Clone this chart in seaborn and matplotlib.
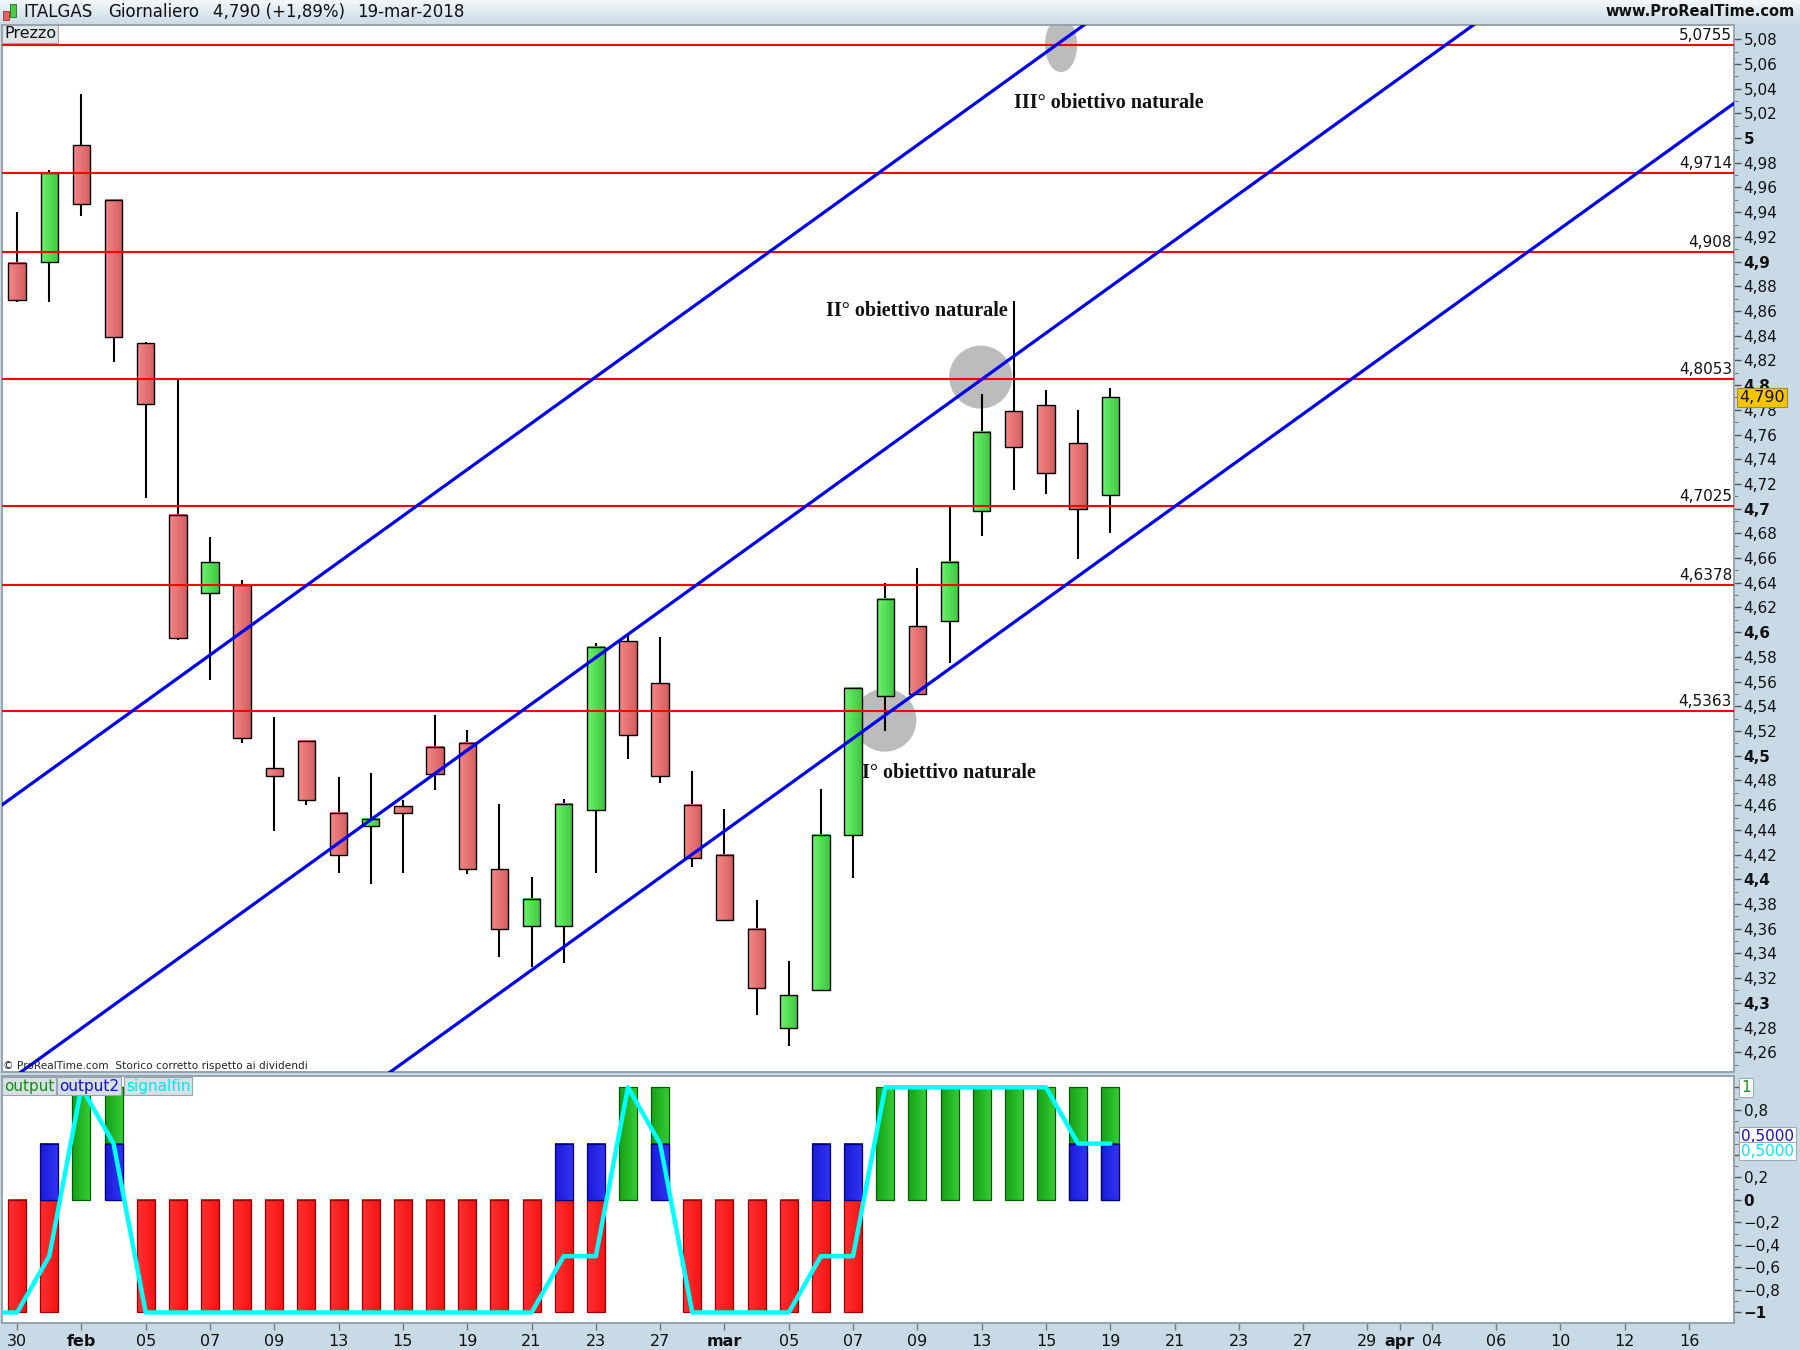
import numpy as np
import pandas as pd
import matplotlib
matplotlib.use("Agg")
import matplotlib.pyplot as plt
import matplotlib.transforms as mtransforms
from matplotlib.colors import to_rgb
from matplotlib.patches import Ellipse, Rectangle
import seaborn as sns

# ------------------------------------------------------------------ data
# trading days shown on the time axis (Good Friday / Easter Monday closed)
dates = pd.bdate_range("2018-01-30", "2018-04-17").drop(
    [pd.Timestamp("2018-03-30"), pd.Timestamp("2018-04-02")])

open_ = [4.899, 4.900, 4.994, 4.950, 4.834, 4.695, 4.632, 4.638, 4.490, 4.512,
         4.454, 4.443, 4.459, 4.507, 4.510, 4.408, 4.362, 4.362, 4.456, 4.593,
         4.559, 4.460, 4.420, 4.360, 4.280, 4.310, 4.436, 4.548, 4.605, 4.609,
         4.698, 4.779, 4.784, 4.753, 4.711]
high = [4.940, 4.974, 5.036, 4.951, 4.835, 4.805, 4.677, 4.642, 4.531, 4.513,
        4.483, 4.486, 4.464, 4.533, 4.521, 4.461, 4.402, 4.465, 4.591, 4.598,
        4.596, 4.488, 4.457, 4.383, 4.334, 4.473, 4.555, 4.640, 4.652, 4.701,
        4.793, 4.868, 4.796, 4.780, 4.798]
low = [4.867, 4.867, 4.937, 4.819, 4.709, 4.594, 4.561, 4.510, 4.439, 4.460,
       4.405, 4.396, 4.405, 4.472, 4.404, 4.337, 4.329, 4.332, 4.405, 4.497,
       4.478, 4.410, 4.367, 4.290, 4.265, 4.310, 4.401, 4.520, 4.550, 4.575,
       4.678, 4.715, 4.712, 4.659, 4.680]
close = [4.869, 4.972, 4.947, 4.839, 4.785, 4.595, 4.657, 4.514, 4.484, 4.464,
         4.420, 4.449, 4.454, 4.485, 4.408, 4.360, 4.384, 4.461, 4.588, 4.517,
         4.484, 4.417, 4.367, 4.312, 4.306, 4.436, 4.555, 4.627, 4.550, 4.657,
         4.762, 4.750, 4.729, 4.700, 4.790]

# horizontal levels and their labels
levels = [5.0755, 4.9714, 4.908, 4.8053, 4.7025, 4.6378, 4.5363]
level_labels = ["5,0755", "4,9714", "4,908", "4,8053", "4,7025", "4,6378", "4,5363"]

# parallel channel lines: price at first bar and slope per bar
channel_start = [4.469, 4.2418, 4.0263]
channel_slope = 0.01876

# "obiettivo" circles: (bar index, price, width in bars, height in price)
target_x = [26.99, 29.97, 32.47]
target_y = [4.5288, 4.8065, 5.0755]
target_w = [1.96, 1.96, 1.0]
target_h = [0.051, 0.051, 0.0443]

notes = ["I° obiettivo naturale", "II° obiettivo naturale", "III° obiettivo naturale"]
note_x = [26.28, 25.16, 31.0]
note_y = [4.486, 4.8597, 5.028]

# indicator panel
output = [-1, -1, 1, 1, -1, -1, -1, -1, -1, -1, -1, -1, -1, -1, -1, -1, -1, -1, -1,
          1, 1, -1, -1, -1, -1, -1, -1, 1, 1, 1, 1, 1, 1, 1, 1]
output2 = [0, 0.5, 0, 0.5, 0, 0, 0, 0, 0, 0, 0, 0, 0, 0, 0, 0, 0, 0.5, 0.5,
           0, 0.5, 0, 0, 0, 0, 0.5, 0.5, 0, 0, 0, 0, 0, 0, 0.5, 0.5]
# signalfin starts one session earlier (29 Jan)
signalfin = [-1, -1, -0.5, 1, 0.5, -1, -1, -1, -1, -1, -1, -1, -1, -1, -1, -1, -1,
             -1, -0.5, -0.5, 1, 0.5, -1, -1, -1, -1, -0.5, -0.5, 1, 1, 1, 1, 1, 1,
             0.5, 0.5]

tick_dates = ["2018-01-30", "2018-02-01", "2018-02-05", "2018-02-07", "2018-02-09",
              "2018-02-13", "2018-02-15", "2018-02-19", "2018-02-21", "2018-02-23",
              "2018-02-27", "2018-03-01", "2018-03-05", "2018-03-07", "2018-03-09",
              "2018-03-13", "2018-03-15", "2018-03-19", "2018-03-21", "2018-03-23",
              "2018-03-27", "2018-03-29", "2018-04-03", "2018-04-04", "2018-04-06",
              "2018-04-10", "2018-04-12", "2018-04-16"]
tick_labels = ["30", "feb", "05", "07", "09", "13", "15", "19", "21", "23", "27",
               "mar", "05", "07", "09", "13", "15", "19", "21", "23", "27", "29",
               "apr", "04", "06", "10", "12", "16"]
month_labels = ["feb", "mar", "apr"]

# ------------------------------------------------------------------ style
sns.set_theme(style="white")
plt.rcParams["font.family"] = ["DejaVu Sans"]

W, H = 1800, 1350
BG = "#c8dae6"
fig = plt.figure(figsize=(18, 13.5), dpi=100, facecolor=BG)


def fx(px):
    return px / W


def fy(py):
    return 1 - py / H


def grad_bars(axis, bars, left_cols, right_cols, edge_cols, z):
    """paint each bar rectangle with a horizontal colour gradient"""
    t = np.linspace(0, 1, 32)[None, :, None]
    for r, cl, cr, ce in zip(bars, left_cols, right_cols, edge_cols):
        h = r.get_height()
        if h == 0:
            r.set_visible(False)
            continue
        x0, y0, w = r.get_x(), r.get_y(), r.get_width()
        a = np.array(to_rgb(cl))[None, None, :]
        b = np.array(to_rgb(cr))[None, None, :]
        axis.imshow(a * (1 - t) + b * t, extent=[x0, x0 + w, y0, y0 + h],
                    aspect="auto", interpolation="bilinear", zorder=z)
        r.set_facecolor("none")
        r.set_edgecolor(ce)
        r.set_zorder(z + 0.1)


ax = fig.add_axes([fx(2), fy(1072), fx(1734) - fx(2), fy(24.5) - fy(1072)])
ax2 = fig.add_axes([fx(2), fy(1323.3), fx(1734) - fx(2), fy(1075.7) - fy(1323.3)],
                   sharex=ax)
for a in (ax, ax2):
    a.set_facecolor("white")
    for s in a.spines.values():
        s.set_color("#95a3ad")
        s.set_linewidth(1.4)

# header gradient
axh = fig.add_axes([0, fy(24), 1, 24 / H])
grad = np.linspace(0, 1, 50).reshape(-1, 1)
top_c = np.array([0.95, 0.97, 0.98])
bot_c = np.array([0.80, 0.86, 0.90])
img = top_c[None, None, :] * (1 - grad[:, :, None]) + bot_c[None, None, :] * grad[:, :, None]
axh.imshow(img, aspect="auto", extent=[0, 1, 0, 1])
axh.set_axis_off()
axh.add_patch(Rectangle((0.0018, 0.15), 0.0033, 0.4, fc="#e86060", ec="#a03030", lw=0.6))
axh.add_patch(Rectangle((0.0058, 0.3), 0.0033, 0.55, fc="#44cc44", ec="#207020", lw=0.6))

ttl_y = fy(12)
fig.text(fx(23.7), ttl_y, "ITALGAS", fontsize=12, va="center", color="#111111")
fig.text(fx(108), ttl_y, "Giornaliero", fontsize=12, va="center", color="#111111")
fig.text(fx(213), ttl_y, "4,790 (+1,89%)", fontsize=12, va="center", color="#111111")
fig.text(fx(357), ttl_y, "19-mar-2018", fontsize=12, va="center", color="#111111")
fig.text(fx(1795), ttl_y, "www.ProRealTime.com", fontsize=10.5, fontweight="bold",
         va="center", ha="right", color="#111111")

# ------------------------------------------------------------------ price panel
o = np.array(open_)
c = np.array(close)
hi = np.array(high)
lo = np.array(low)
x = np.arange(len(c))
up = c >= o

ax.vlines(x, lo, hi, color="black", lw=1.5, zorder=2)
bodies = ax.bar(x, np.abs(c - o), bottom=np.minimum(o, c), width=0.54, color="white",
                edgecolor="black", linewidth=1.0, zorder=2.5)
grad_bars(ax, bodies,
          np.where(up, "#6cf26c", "#f68888"),
          np.where(up, "#3fc83f", "#d45e5e"),
          ["black"] * len(c), 2.5)

for tx, ty, tw, th in zip(target_x, target_y, target_w, target_h):
    ax.add_patch(Ellipse((tx, ty), tw, th, facecolor="#bcbcbc", edgecolor="none", zorder=1))

for lv, lb in zip(levels, level_labels):
    ax.axhline(lv, color="#ff0000", lw=1.5, zorder=3)
    tr = mtransforms.offset_copy(ax.get_yaxis_transform(), fig=fig, x=-2, y=2, units="dots")
    ax.text(1.0, lv, lb, transform=tr, ha="right", va="bottom", fontsize=11,
            color="#111111", zorder=6)

xx = np.array([-2, 56])
for cs in channel_start:
    ax.plot(xx, cs + channel_slope * xx, color="#0000ee", lw=2.3, zorder=4)

for t, nx, ny in zip(notes, note_x, note_y):
    ax.text(nx, ny, t, fontsize=14.5, fontweight="bold", family="Liberation Serif",
            ha="left", va="center", color="#111111", zorder=6)

ax.set_xlim(-0.47, 53.4)
ax.set_ylim(4.2440, 5.0919)
ax.yaxis.tick_right()
yt = np.round(np.arange(4.26, 5.0801, 0.02), 2)


def fmt(v):
    s = f"{v:.2f}".rstrip("0").rstrip(".")
    return s.replace(".", ",")


ax.set_yticks(yt)
ax.set_yticklabels([fmt(v) for v in yt])
for lab, v in zip(ax.get_yticklabels(), yt):
    if abs(v * 10 - round(v * 10)) < 1e-6:
        lab.set_fontweight("bold")
ax.set_yticks(np.round(np.arange(4.25, 5.09, 0.01), 2), minor=True)
ax.tick_params(axis="y", which="major", right=True, length=5, width=1, color="#555555",
               pad=2, labelsize=11, labelcolor="#111111")
ax.tick_params(axis="y", which="minor", right=True, length=3, width=0.8, color="#777777")
ax.tick_params(axis="x", bottom=False, labelbottom=False)

ax.text(1.003, close[-1], "4,790", transform=ax.get_yaxis_transform(), ha="left",
        va="center", fontsize=11.5, color="#111111", zorder=10, clip_on=False,
        bbox=dict(boxstyle="square,pad=0.12", fc="#f5c400", ec="#a08a40", lw=0.8))

fig.text(fx(4), fy(34), "Prezzo", fontsize=11.5, va="center", ha="left", color="#111111",
         bbox=dict(boxstyle="square,pad=0.12", fc="#dfe6ea", ec="#9aa5ad", lw=0.8))
fig.text(fx(3), fy(1066), "© ProRealTime.com  Storico corretto rispetto ai dividendi",
         fontsize=7.6, va="center", ha="left", color="#222222")

# ------------------------------------------------------------------ indicator panel
out = np.array(output, dtype=float)
out2 = np.array(output2, dtype=float)
pos = out > 0
b1 = ax2.bar(x, out, width=0.56, color="white", linewidth=0.9, zorder=2)
grad_bars(ax2, b1,
          np.where(pos, "#17a017", "#ff3030"),
          np.where(pos, "#36cf36", "#f01414"),
          np.where(pos, "#006000", "#a00000"), 2)
b2 = ax2.bar(x, out2, width=0.56, color="white", linewidth=0.9, zorder=2.5)
grad_bars(ax2, b2, ["#1a1ad8"] * len(x), ["#3434f4"] * len(x), ["#000080"] * len(x), 2.5)

sig_x = np.arange(-1, len(signalfin) - 1)
sns.lineplot(x=sig_x, y=signalfin, ax=ax2, color="#00ffff", lw=3.2, zorder=4,
             legend=False)

ax2.set_ylim(-1.096, 1.103)
ax2.yaxis.tick_right()
it = np.round(np.arange(-1, 1.01, 0.2), 1)


def ifmt(v):
    if v in (1.0, 0.6, 0.4):
        return ""
    s = f"{v:.1f}".rstrip("0").rstrip(".")
    if s == "-0":
        s = "0"
    return s.replace(".", ",").replace("-", "\u2212")


ax2.set_yticks(it)
ax2.set_yticklabels([ifmt(v) for v in it])
for lab, v in zip(ax2.get_yticklabels(), it):
    if abs(v) in (0.0, 1.0):
        lab.set_fontweight("bold")
ax2.set_yticks(np.round(np.arange(-1, 1.01, 0.1), 1), minor=True)
ax2.tick_params(axis="y", which="major", right=True, length=5, width=1, color="#555555",
                pad=2, labelsize=11, labelcolor="#111111")
ax2.tick_params(axis="y", which="minor", right=True, length=3, width=0.8, color="#777777")
ax2.set_ylabel("")
ax2.set_xlabel("")

tick_pos = [dates.get_loc(pd.Timestamp(d)) for d in tick_dates]
ax2.set_xticks(tick_pos)
ax2.set_xticklabels(tick_labels)
for lab in ax2.get_xticklabels():
    if lab.get_text() in month_labels:
        lab.set_fontweight("bold")
ax2.tick_params(axis="x", bottom=True, length=5, width=1, color="#777777", pad=3,
                labelsize=11.5, labelcolor="#111111")
ax2.set_xlim(-0.47, 53.4)
ax.set_ylim(4.2440, 5.0919)

ytr = ax2.get_yaxis_transform()
ax2.text(1.004, 1.0, "1", transform=ytr, ha="left", va="center", fontsize=11,
         color="#109010", clip_on=False, zorder=10,
         bbox=dict(boxstyle="square,pad=0.15", fc="white", ec="#a0a8b0", lw=0.8))
ax2.text(1.004, 0.5, "0,5000", transform=ytr, ha="left", va="bottom", fontsize=11,
         color="#1010d0", clip_on=False, zorder=10,
         bbox=dict(boxstyle="square,pad=0.12", fc="white", ec="#a0a8b0", lw=0.8))
ax2.text(1.004, 0.5, "0,5000", transform=ytr, ha="left", va="top", fontsize=11,
         color="#00e8f0", clip_on=False, zorder=10,
         bbox=dict(boxstyle="square,pad=0.12", fc="white", ec="#a0a8b0", lw=0.8))

ly = fy(1086)
fig.text(fx(4), ly, "output", fontsize=11, color="#109010", va="center", ha="left",
         bbox=dict(boxstyle="square,pad=0.12", fc="#d8e0e5", ec="#9aa5ad", lw=0.8))
fig.text(fx(59), ly, "output2", fontsize=11, color="#1010d0", va="center", ha="left",
         bbox=dict(boxstyle="square,pad=0.12", fc="#d8e0e5", ec="#9aa5ad", lw=0.8))
fig.text(fx(126), ly, "signalfin", fontsize=11, color="#00e8f0", va="center", ha="left",
         bbox=dict(boxstyle="square,pad=0.12", fc="#d8e0e5", ec="#9aa5ad", lw=0.8))

fig.savefig("out.png", dpi=100, facecolor=BG)
